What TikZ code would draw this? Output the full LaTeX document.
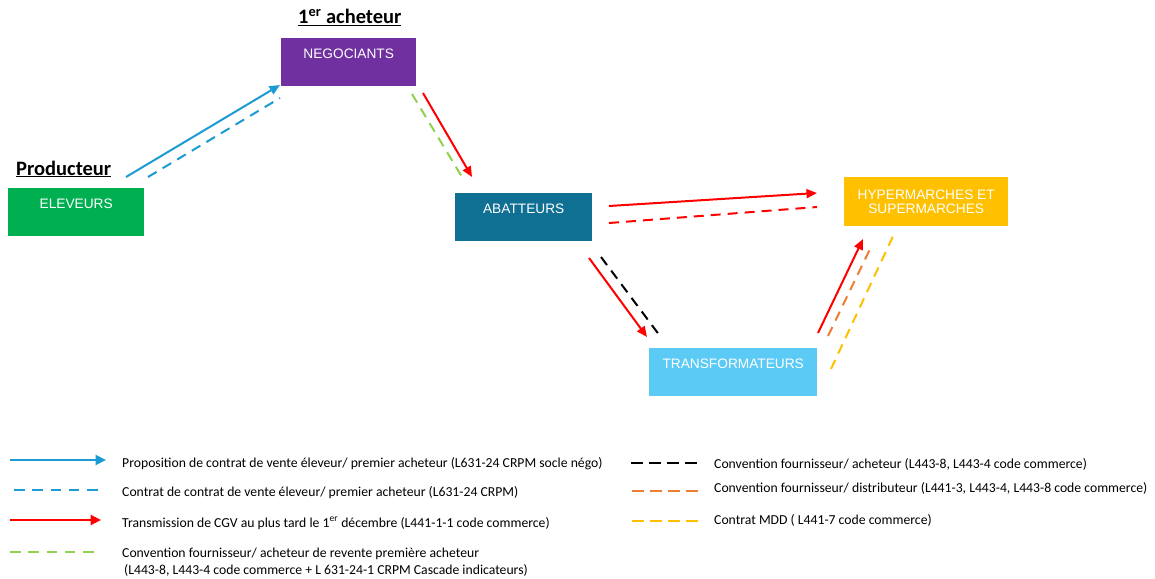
\documentclass[tikz,border=0pt]{standalone}
\usepackage{fontspec}
\setmainfont{Carlito}
\newfontfamily\arialf{Liberation Sans}
\usetikzlibrary{arrows.meta}
\definecolor{cgreen}{HTML}{00B050}
\definecolor{cpurple}{HTML}{7030A0}
\definecolor{cteal}{HTML}{0F7093}
\definecolor{cgold}{HTML}{FFC000}
\definecolor{clblue}{HTML}{5BCBF5}
\definecolor{cblue}{HTML}{1B9BD1}
\definecolor{cred}{HTML}{FF0000}
\definecolor{clgreen}{HTML}{92D050}
\definecolor{corange}{HTML}{ED7D31}
\definecolor{cyellow}{HTML}{FFC000}
\tikzset{
  boxnode/.style={anchor=north west, inner sep=0pt, text=white,
    font=\arialf\fontsize{13.7}{15}\selectfont},
  onebox/.style={boxnode, text height=20pt, text depth=28pt},
  head/.style={anchor=base west, inner sep=0pt, font=\fontsize{20.5}{24}\selectfont\bfseries},
  legtext/.style={anchor=base west, inner sep=0pt, font=\fontsize{13.7}{16}\selectfont},
  link/.style={line width=2pt},
  solidarrow/.style={link, -{Triangle[length=10.5pt,width=9pt]}},
  dashlink/.style={link, dash pattern=on 10pt off 7pt},
  legline/.style={line width=2.5pt},
  legarrow/.style={legline, -{Triangle[length=10.5pt,width=10pt]}},
  legdash/.style={legline, dash pattern=on 10.5pt off 7.8pt},
  legdashr/.style={legline, dash pattern=on 11.5pt off 6.5pt}
}
\begin{document}
\begin{tikzpicture}[x=1pt,y=-1pt]
\useasboundingbox (0,0) rectangle (1155,578);

% boxes
\node[onebox, fill=cgreen, minimum width=136pt] (elev) at (8,188) {ELEVEURS};
\node[onebox, fill=cpurple, minimum width=135pt] (nego) at (281,38) {NEGOCIANTS};
\node[onebox, fill=cteal, minimum width=137pt] (abat) at (455,193) {ABATTEURS};
\node[onebox, fill=clblue, minimum width=168pt] (trans) at (649,348) {TRANSFORMATEURS};
\node[boxnode, fill=cgold, minimum width=164pt, minimum height=49pt, align=center] (hyper) at (844,177) {HYPERMARCHES ET\\[-1pt]SUPERMARCHES};

% headers
\node[head] (hprod) at (16,175) {\underline{Producteur}};
\node[head] (hache) at (298,24) {\underline{1\textsuperscript{er} acheteur}};

% connector end points
\coordinate (b1s) at (126,177); \coordinate (b1e) at (280,85);
\coordinate (b2s) at (148,177); \coordinate (b2e) at (280,98);
\coordinate (r1s) at (423,93);  \coordinate (r1e) at (472,177);
\coordinate (g1s) at (412,94);  \coordinate (g1e) at (462,177);
\coordinate (r2s) at (609,206); \coordinate (r2e) at (817,193);
\coordinate (d2s) at (609,223); \coordinate (d2e) at (817,207);
\coordinate (r3s) at (589,258); \coordinate (r3e) at (647,337);
\coordinate (k1s) at (601,257); \coordinate (k1e) at (660,336);
\coordinate (r4s) at (818,333); \coordinate (r4e) at (863,239);
\coordinate (o1s) at (828,336); \coordinate (o1e) at (871,247);
\coordinate (y1s) at (831,369); \coordinate (y1e) at (895,232);

\draw[solidarrow, cblue] (b1s) -- (b1e);
\draw[dashlink, cblue] (b2s) -- (b2e);
\draw[solidarrow, cred] (r1s) -- (r1e);
\draw[dashlink, clgreen] (g1s) -- (g1e);
\draw[solidarrow, cred] (r2s) -- (r2e);
\draw[dashlink, cred] (d2s) -- (d2e);
\draw[solidarrow, cred] (r3s) -- (r3e);
\draw[dashlink, black] (k1s) -- (k1e);
\draw[solidarrow, cred] (r4s) -- (r4e);
\draw[dashlink, corange] (o1s) -- (o1e);
\draw[dashlink, cyellow] (y1s) -- (y1e);

% legend
\coordinate (l1s) at (10,460); \coordinate (l1e) at (106,460);
\coordinate (l2s) at (14,490); \coordinate (l2e) at (98,490);
\coordinate (l3s) at (10,520); \coordinate (l3e) at (101,520);
\coordinate (l4s) at (10,552); \coordinate (l4e) at (94,552);
\coordinate (l5s) at (631,463); \coordinate (l5e) at (697,463);
\coordinate (l6s) at (632,491); \coordinate (l6e) at (698,491);
\coordinate (l7s) at (632,521); \coordinate (l7e) at (698,521);
\draw[legarrow, cblue] (l1s) -- (l1e);
\draw[legdash, cblue] (l2s) -- (l2e);
\draw[legarrow, cred] (l3s) -- (l3e);
\draw[legdash, clgreen] (l4s) -- (l4e);
\draw[legdashr, black] (l5s) -- (l5e);
\draw[legdashr, corange] (l6s) -- (l6e);
\draw[legdashr, cyellow] (l7s) -- (l7e);

\node[legtext] (t1) at (122,467) {Proposition de contrat de vente éleveur/ premier acheteur (L631-24 CRPM socle négo)};
\node[legtext] (t2) at (122,496) {Contrat de contrat de vente éleveur/ premier acheteur (L631-24 CRPM)};
\node[legtext] (t3) at (122,527) {Transmission de CGV au plus tard le 1\textsuperscript{er} décembre (L441-1-1 code commerce)};
\node[legtext] (t4) at (122,557) {Convention fournisseur/ acheteur de revente première acheteur};
\node[legtext] (t4b) at (124,574) {(L443-8, L443-4 code commerce + L 631-24-1 CRPM Cascade indicateurs)};
\node[legtext] (t5) at (714,468) {Convention fournisseur/ acheteur (L443-8, L443-4 code commerce)};
\node[legtext] (t6) at (714,492) {Convention fournisseur/ distributeur (L441-3, L443-4, L443-8 code commerce)};
\node[legtext] (t7) at (714,524) {Contrat MDD ( L441-7 code commerce)};
\end{tikzpicture}
\end{document}
